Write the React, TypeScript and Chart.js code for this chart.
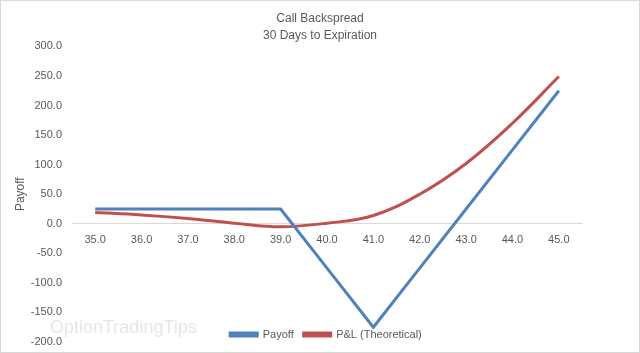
import React, { useEffect, useRef } from 'react';
import { Chart, registerables } from 'chart.js';

Chart.register(...registerables);

const strikes = ['35.0', '36.0', '37.0', '38.0', '39.0', '40.0', '41.0', '42.0', '43.0', '44.0', '45.0'];
const payoff = [25, 25, 25, 25, 25, -75, -175, -75, 25, 125, 225];
const pnlTheoretical = [19, 15, 9, 1, -5, 1, 14, 50, 102, 170, 249];
const seriesNames = ['Payoff', 'P&L (Theoretical)'];
const chartTitle = ['Call Backspread', '30 Days to Expiration'];
const yAxisTitle = 'Payoff';
const yMin = -200;
const yMax = 300;
const yStep = 50;
const watermarkText = 'OptionTradingTips';

const FONT = "'Liberation Sans', Arial, sans-serif";
const TEXT = '#595959';

const framePlugin = {
  id: 'frame',
  beforeDraw(chart: any) {
    const { ctx, width, height } = chart;
    ctx.save();
    ctx.fillStyle = '#ffffff';
    ctx.fillRect(0, 0, width, height);
    ctx.strokeStyle = '#d9d9d9';
    ctx.lineWidth = 1;
    ctx.strokeRect(0.5, 0.5, width - 1, height - 1);
    ctx.fillStyle = '#e6e6e6';
    ctx.font = `18px ${FONT}`;
    ctx.textBaseline = 'middle';
    ctx.textAlign = 'left';
    ctx.fillText(watermarkText, 50, 328);
    ctx.restore();
  },
  afterLayout(chart: any) {
    const w = chart.width;
    const t = chart.titleBlock;
    if (t) {
      t.left = 0;
      t.right = w;
      t.width = w;
    }
    const lg = chart.legend;
    if (lg) {
      lg.left = 12;
      lg.right = w;
      lg.width = w - 12;
      lg.top = 319;
      lg.bottom = chart.height;
      lg.height = lg.bottom - lg.top;
    }
  },
};

export default function App() {
  const ref = useRef<HTMLCanvasElement | null>(null);

  useEffect(() => {
    if (!ref.current) return;
    const chart = new Chart(ref.current, {
      type: 'line',
      data: {
        labels: strikes,
        datasets: [
          {
            label: seriesNames[0],
            data: payoff,
            borderColor: '#4F81BD',
            backgroundColor: '#4F81BD',
            borderWidth: 3,
            pointRadius: 0,
            tension: 0,
            fill: false,
          },
          {
            label: seriesNames[1],
            data: pnlTheoretical,
            borderColor: '#C0504D',
            backgroundColor: '#C0504D',
            borderWidth: 3,
            pointRadius: 0,
            tension: 0.4,
            fill: false,
          },
        ],
      },
      options: {
        responsive: false,
        animation: false,
        layout: { padding: { left: 10, right: 58, top: 0, bottom: 0 } },
        plugins: {
          title: {
            display: true,
            text: chartTitle,
            color: TEXT,
            font: { family: FONT, size: 12, weight: 'normal', lineHeight: 1.35 },
            padding: { top: 11, bottom: 3 },
          },
          legend: {
            display: true,
            position: 'bottom',
            maxHeight: 11,
            labels: {
              color: TEXT,
              font: { family: FONT, size: 11 },
              boxWidth: 27,
              boxHeight: 3,
              padding: 10,
            },
          },
          tooltip: { enabled: false },
        },
        scales: {
          x: {
            type: 'category',
            offset: true,
            position: { y: 0 } as any,
            grid: { display: false, drawTicks: false },
            border: { display: true, color: '#d9d9d9', width: 1 },
            ticks: {
              color: TEXT,
              font: { family: FONT, size: 11 },
              padding: 10,
              maxRotation: 0,
              autoSkip: false,
            },
          },
          y: {
            min: yMin,
            max: yMax,
            grid: { display: false, drawTicks: true, tickLength: 10 },
            border: { display: false },
            afterFit: (scale: any) => {
              scale.width = 62;
            },
            title: {
              display: true,
              text: yAxisTitle,
              color: TEXT,
              font: { family: FONT, size: 12 },
              padding: { top: 3, bottom: 4 },
            },
            ticks: {
              stepSize: yStep,
              color: TEXT,
              font: { family: FONT, size: 11 },
              padding: 0,
              callback: (v: any) => Number(v).toFixed(1),
            },
          },
        },
      },
      plugins: [framePlugin],
    });
    return () => chart.destroy();
  }, []);

  return (
    <div style={{ position: 'fixed', left: 0, top: 0, width: 640, height: 353 }}>
      <canvas ref={ref} width={640} height={353} style={{ display: 'block' }} />
    </div>
  );
}
